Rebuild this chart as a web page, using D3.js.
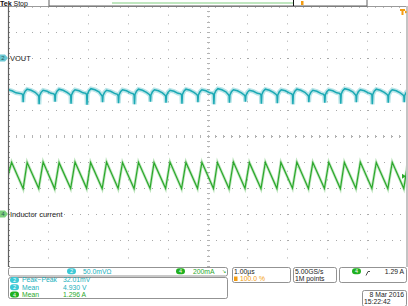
<!DOCTYPE html>
<html><head><meta charset="utf-8">
<script src="https://cdn.jsdelivr.net/npm/d3@7"></script>
<style>
html,body{margin:0;padding:0;background:#fff;}
svg{display:block;}
text{font-family:"Liberation Sans",Arial,sans-serif;}
</style></head>
<body><svg id="c" width="408" height="306"></svg>
<script>
// ---------- data ----------
// time axis (µs), 10 divisions of 1.00 µs
const timeDomain = [-5, 5];
// Channel 4 (inductor current, A): 200 mA/div, marker position -3 div, offset 1.0 A
const ch4PeakTimes   = [-4.91,-4.52,-4.12,-3.72,-3.32,-2.93,-2.53,-2.13,-1.73,-1.34,-0.94,-0.54,-0.14,0.25,0.65,1.05,1.45,1.84,2.24,2.64,3.04,3.43,3.83,4.23,4.63,5.02];
const ch4PeakValues  = [1.398,1.396,1.400,1.395,1.399,1.397,1.400,1.396,1.398,1.395,1.399,1.397,1.398,1.396,1.400,1.395,1.398,1.397,1.399,1.396,1.398,1.397,1.399,1.396,1.398,1.397];
const ch4TroughTimes = [-5.09,-4.62,-4.23,-3.83,-3.43,-3.03,-2.64,-2.24,-1.84,-1.44,-1.05,-0.65,-0.25,0.15,0.54,0.94,1.34,1.74,2.13,2.53,2.93,3.33,3.72,4.12,4.52,4.92];
const ch4TroughValues= [1.196,1.195,1.197,1.194,1.196,1.198,1.195,1.196,1.194,1.197,1.196,1.195,1.197,1.196,1.194,1.197,1.195,1.196,1.198,1.195,1.196,1.194,1.197,1.196,1.195,1.196];
// Channel 2 (VOUT, V): 50 mV/div, marker position +3 div, offset 5.0 V
const ch2SpikeTimes  = [-5.10,-4.62,-4.22,-3.82,-3.42,-3.02,-2.63,-2.23,-1.83,-1.43,-1.04,-0.64,-0.24,0.16,0.55,0.95,1.35,1.75,2.14,2.54,2.94,3.34,3.73,4.13,4.53,4.93];
const ch2SpikeLows   = [4.913,4.915,4.911,4.916,4.912,4.910,4.915,4.913,4.911,4.916,4.914,4.912,4.915,4.911,4.914,4.916,4.912,4.913,4.911,4.915,4.914,4.912,4.915,4.911,4.914,4.915];
const ch2HumpHighs   = [4.939,4.940,4.938,4.940,4.939,4.941,4.938,4.939,4.940,4.939,4.938,4.940,4.939,4.941,4.939,4.938,4.940,4.939,4.940,4.938,4.939,4.941,4.939,4.940,4.939,4.938];
// shape of one VOUT period relative to its spike (µs offsets) and its level (V below hump)
const ch2ShapeOffsets = [-0.03, -0.008, 0, 0.012, 0.05, 0.10, 0.20, 0.30];
const ch2ShapeDrops   = [0.009, 0.012, null, 0.010, 0.004, 0, 0.002, 0.006];

const topLabels = ["Tek","Stop"];
const ch2Label = "VOUT", ch4Label = "Inductor current";
const ch2Scale = "50.0mV", ch4Scale = "200mA";
const measNames  = ["Peak−Peak","Mean","Mean"];
const measValues = ["32.01mV","4.930 V","1.296 A"];
const measChans  = [2,2,4];
const timebase = "1.00µs", horizPos = "100.0 %";
const sampleRate = "5.00GS/s", recLen = "1M points";
const trigLevel = "1.29 A";
const dateText = ["8 Mar 2016","15:22:42"];

// ---------- drawing ----------
const svg = d3.select("#c");
const cyan = "#1ba9b4", cyanTxt="#22b0bc", green = "#2ba82b", orange = "#f39c12";
const x = d3.scaleLinear().domain(timeDomain).range([8, 407]);
const y = d3.scaleLinear().domain([5, -5]).range([6, 266]);   // divisions
const ch2Div = v => 3 + (v - 5.0) / 0.05;
const ch4Div = v => -3 + (v - 1.0) / 0.2;

// graticule
const g = svg.append("g");
const gridX = d3.range(-4, 5), gridY = d3.range(-4, 5);
g.selectAll(".vx").data(gridX.filter(d=>d!==0)).join("line")
  .attr("x1", d=>Math.round(x(d))+0.5).attr("x2", d=>Math.round(x(d))+0.5)
  .attr("y1", y(5)).attr("y2", y(-5))
  .attr("stroke","#a8a8a8").attr("stroke-width",1).attr("stroke-dasharray","1,7.67");
g.selectAll(".hy").data(gridY.filter(d=>d!==0)).join("line")
  .attr("y1", d=>Math.round(y(d))+0.5).attr("y2", d=>Math.round(y(d))+0.5)
  .attr("x1", x(-5)).attr("x2", x(5))
  .attr("stroke","#a8a8a8").attr("stroke-width",1).attr("stroke-dasharray","1,7");
// center cross with minor ticks
const cx = Math.round(x(0))+0.5, cy = Math.round(y(0))+0.5;
g.append("line").attr("x1",cx).attr("x2",cx).attr("y1",y(5)).attr("y2",y(-5))
  .attr("stroke","#a8a8a8").attr("stroke-dasharray","1,4.2");
g.append("line").attr("y1",cy).attr("y2",cy).attr("x1",x(-5)).attr("x2",x(5))
  .attr("stroke","#a8a8a8").attr("stroke-dasharray","1,7");
const minorY = d3.range(-50, 51, 2).map(d=>d/10);
const minorX = d3.range(-50, 51, 2).map(d=>d/10);
g.selectAll(".ty").data(minorY).join("line")
  .attr("x1",cx-1.5).attr("x2",cx+1.5).attr("y1",d=>Math.round(y(d))+0.5).attr("y2",d=>Math.round(y(d))+0.5)
  .attr("stroke","#b4b4b4");
g.selectAll(".tx").data(minorX).join("line")
  .attr("y1",cy-1.5).attr("y2",cy+1.5).attr("x1",d=>Math.round(x(d))+0.5).attr("x2",d=>Math.round(x(d))+0.5)
  .attr("stroke","#b4b4b4");
// border ticks
g.selectAll(".lt").data(minorY).join("line")
  .attr("x1",8).attr("x2",10).attr("y1",d=>Math.round(y(d))+0.5).attr("y2",d=>Math.round(y(d))+0.5)
  .attr("stroke","#909090");
g.selectAll(".tt").data(minorX).join("line")
  .attr("y1",6).attr("y2",8).attr("x1",d=>Math.round(x(d))+0.5).attr("x2",d=>Math.round(x(d))+0.5)
  .attr("stroke","#b8b8b8");
// frame
g.append("line").attr("x1",0).attr("x2",408).attr("y1",6.5).attr("y2",6.5).attr("stroke","#9a9a9a");
g.append("line").attr("x1",8.5).attr("x2",8.5).attr("y1",6).attr("y2",267).attr("stroke","#606060").attr("stroke-width",1.2);
g.append("rect").attr("x",406).attr("y",6).attr("width",2).attr("height",261).attr("fill","#c4c4c4");

// clip
svg.append("clipPath").attr("id","pc").append("rect").attr("x",9).attr("y",7).attr("width",397).attr("height",259);

// channel 4 waveform
const ch4Pts = [];
ch4TroughTimes.forEach((t,i)=>{ ch4Pts.push([t, ch4TroughValues[i]]); if (i < ch4PeakTimes.length) ch4Pts.push([ch4PeakTimes[i], ch4PeakValues[i]]); });
ch4Pts.sort((a,b)=>a[0]-b[0]);
const line4 = d3.line().x(d=>x(d[0])).y(d=>y(ch4Div(d[1])));
const w4 = svg.append("g").attr("clip-path","url(#pc)");
w4.append("path").attr("d",line4(ch4Pts)).attr("fill","none").attr("stroke",green).attr("stroke-opacity",0.3).attr("stroke-width",2.8);
w4.append("path").attr("d",line4(ch4Pts)).attr("fill","none").attr("stroke",green).attr("stroke-width",1.2);

// channel 2 waveform
const ch2Pts = [];
ch2SpikeTimes.forEach((s,i)=>{
  const lo = ch2SpikeLows[i], hi = ch2HumpHighs[i];
  ch2ShapeOffsets.forEach((o,k)=>ch2Pts.push([s+o, ch2ShapeDrops[k]===null ? lo : hi - ch2ShapeDrops[k]]));
});
ch2Pts.sort((a,b)=>a[0]-b[0]);
const line2 = d3.line().x(d=>x(d[0])).y(d=>y(ch2Div(d[1])));
const w2 = svg.append("g").attr("clip-path","url(#pc)");
w2.append("path").attr("d",line2(ch2Pts)).attr("fill","none").attr("stroke",cyan).attr("stroke-opacity",0.3).attr("stroke-width",4.5);
w2.append("path").attr("d",line2(ch2Pts)).attr("fill","none").attr("stroke",cyan).attr("stroke-width",1.5);

// channel markers
function marker(yy, col, num){
  svg.append("path").attr("d",`M0,${yy-3.5}H5L8,${yy}L5,${yy+3.5}H0Z`).attr("fill",col);
  svg.append("text").attr("x",3).attr("y",yy+2.3).attr("font-size",6).attr("text-anchor","middle").attr("fill","#2a5a5a").text(num);
}
marker(y(3), "#6cc8d4", 2);
marker(y(-3), "#7ccf7c", 4);
svg.append("text").attr("x",10).attr("y",y(3)+2.6).attr("font-size",7.5).attr("fill","#222").text(ch2Label);
svg.append("text").attr("x",10).attr("y",y(-3)+2.6).attr("font-size",7.5).attr("fill","#222").text(ch4Label);

// trigger markers
const ty = y(ch4Div(1.29));
svg.append("path").attr("d",`M406,${ty}L402,${ty-2.5}V${ty+2.5}Z`).attr("fill",green);
svg.append("path").attr("d","M400,9H405V11H403.5V15H401.5V11H400Z").attr("fill",orange);
svg.append("path").attr("d","M405,10.5L407.5,12L405,13.5Z").attr("fill",orange);

// top bar
svg.append("text").attr("x",0).attr("y",6).attr("font-size",7.2).attr("font-weight","bold").attr("fill","#111").text(topLabels[0]);
svg.append("text").attr("x",13.5).attr("y",6).attr("font-size",7).attr("fill","#111").text(topLabels[1]);
svg.append("rect").attr("x",49).attr("y",-1).attr("width",318).attr("height",7).attr("fill","#fff").attr("stroke","#606060").attr("stroke-width",1);
svg.append("rect").attr("x",112).attr("y",2).attr("width",181).attr("height",2).attr("fill","#bfe6bf");
svg.append("line").attr("x1",293.5).attr("x2",293.5).attr("y1",0).attr("y2",6).attr("stroke","#111");
svg.append("rect").attr("x",301).attr("y",1).attr("width",2.5).attr("height",4).attr("fill",orange);

// bottom readouts
function box(x0,y0,w,h){ svg.append("rect").attr("x",x0+0.5).attr("y",y0+0.5).attr("width",w).attr("height",h).attr("rx",2).attr("fill","#fff").attr("stroke","#777").attr("stroke-width",0.8); }
function badge(xx,yy,col,num,tc){
  svg.append("rect").attr("x",xx).attr("y",yy-3).attr("width",9).attr("height",6).attr("rx",3).attr("fill",col);
  svg.append("text").attr("x",xx+4.5).attr("y",yy+2).attr("font-size",5.5).attr("text-anchor","middle").attr("fill",tc).text(num);
}
const fs = 6.8;
box(8,267,219,8.5);
badge(67,271.3,"#3cc9d6",2,"#fff");
svg.append("text").attr("x",83).attr("y",273.6).attr("font-size",fs).attr("fill",cyanTxt).text(ch2Scale + "\u2126");
badge(176,271.3,"#20b020",4,"#fff");
svg.append("text").attr("x",193).attr("y",273.6).attr("font-size",fs).attr("fill",green).text(ch4Scale);
svg.append("text").attr("x",222).attr("y",273.3).attr("font-size",5).attr("fill",green).text("\u2198");

box(8,277,219,21);
measNames.forEach((nm,i)=>{
  const yy = 280 + i*7.3;
  const col = measChans[i]===2 ? cyanTxt : green;
  badge(10, yy, measChans[i]===2 ? "#3cc9d6" : "#20b020", measChans[i], "#fff");
  svg.append("text").attr("x",22).attr("y",yy+2.4).attr("font-size",fs).attr("fill",col).text(nm);
  svg.append("text").attr("x",63).attr("y",yy+2.4).attr("font-size",fs).attr("fill",col).text(measValues[i]);
});

box(232,267,58,15);
svg.append("text").attr("x",234).attr("y",273.6).attr("font-size",fs).attr("fill","#222").text(timebase);
svg.append("rect").attr("x",234).attr("y",276.5).attr("width",3.5).attr("height",4.5).attr("fill",orange);
svg.append("text").attr("x",240).attr("y",281).attr("font-size",fs).attr("fill",orange).text(horizPos);

box(293,267,43,15);
svg.append("text").attr("x",295).attr("y",273.6).attr("font-size",fs).attr("fill","#222").text(sampleRate);
svg.append("text").attr("x",295).attr("y",281).attr("font-size",fs).attr("fill","#222").text(recLen);

box(339,267,67,15);
badge(352,271.3,"#20b020",4,"#fff");
svg.append("path").attr("d","M366,275.5L368,271.5H370").attr("fill","none").attr("stroke","#222").attr("stroke-width",0.8);
svg.append("text").attr("x",404).attr("y",273.6).attr("font-size",fs).attr("text-anchor","end").attr("fill","#222").text(trigLevel);

box(362,290,44,16);
svg.append("text").attr("x",404).attr("y",296.6).attr("font-size",fs).attr("text-anchor","end").attr("fill","#222").text(dateText[0]);
svg.append("text").attr("x",364).attr("y",304).attr("font-size",fs).attr("fill","#222").text(dateText[1]);
</script></body></html>
